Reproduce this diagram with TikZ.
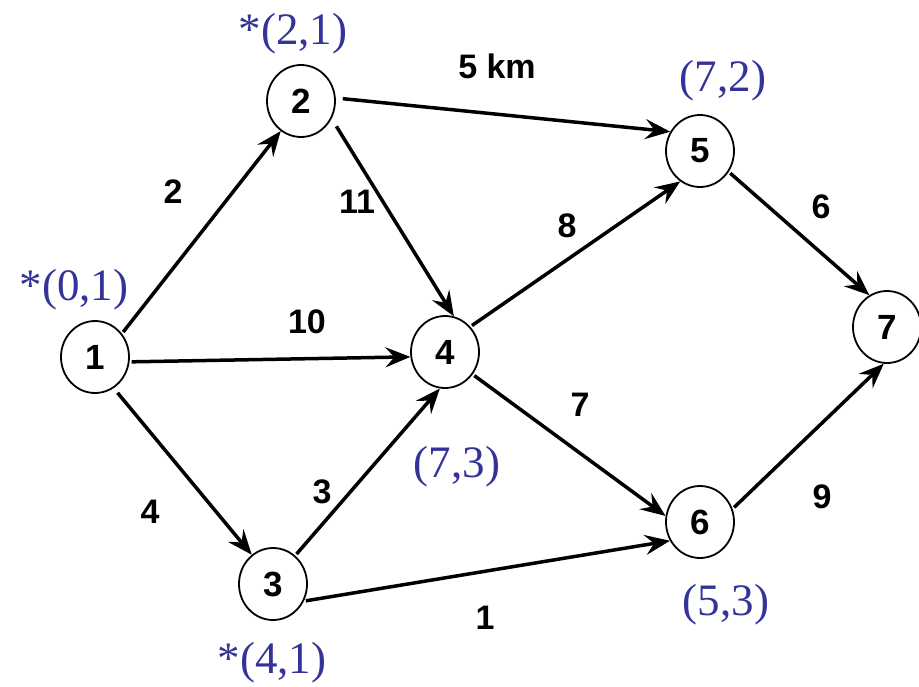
\documentclass[tikz,border=0pt]{standalone}
\usepackage{fontspec}
\setmainfont{Liberation Serif}
\newfontfamily\labfont{Liberation Sans}
\usetikzlibrary{arrows.meta,shapes.geometric}
\definecolor{lblue}{RGB}{51,51,153}
\begin{document}
\begin{tikzpicture}[x=1pt,y=-1pt,
  vtx/.style={ellipse, draw, line width=1.8pt, minimum width=68pt, minimum height=72pt, inner sep=0pt,
    font=\labfont\bfseries\fontsize{35}{35}\selectfont},
  wt/.style={font=\labfont\bfseries\fontsize{34}{34}\selectfont, inner sep=0pt},
  lbl/.style={text=lblue, font=\fontsize{45}{45}\selectfont, inner sep=0pt},
  edge/.style={line width=3.5pt, -{Stealth[length=25pt,width=20pt,inset=9pt]}, shorten <=2pt}]
\useasboundingbox (0,0) rectangle (919,686);
\node[vtx] (n1) at (95,357) {1};
\node[vtx] (n2) at (301,101) {2};
\node[vtx] (n3) at (273,584) {3};
\node[vtx] (n4) at (445,352) {4};
\node[vtx] (n5) at (700,151) {5};
\node[vtx] (n6) at (700,522) {6};
\node[vtx] (n7) at (887,327) {7};

\draw[edge] (n1.41) -- (n2.236);
\draw[edge] (n1.-8) -- (n4.188);
\draw[edge, shorten <=6pt] (n1.-59) -- (n3.126);
\draw[edge, shorten <=7pt] (n2.5) -- (n5.147);
\draw[edge, shorten <=9pt] (n2.-30) -- (n4.76);
\draw[edge] (n3.52) -- (n4.262);
\draw[edge] (n3.-29) -- (n6.212);
\draw[edge] (n4.45) -- (n5.237);
\draw[edge] (n4.-39) -- (n6.170);
\draw[edge] (n5.-36) -- (n7.119);
\draw[edge] (n6.22) -- (n7.265);

\node[wt] (w25) at (497,66) {5 km};
\node[wt] (w24) at (357,202) {11};
\node[wt] (w14) at (307,322) {10};
\node[wt] (w45) at (567,226) {8};
\node[wt] (w57) at (821,207) {6};
\node[wt] (w12) at (173,192) {2};
\node[wt] (w34) at (322,492) {3};
\node[wt] (w36) at (485,618) {1};
\node[wt] (w13) at (150,512) {4};
\node[wt] (w46) at (580,405) {7};
\node[wt] (w67) at (822,497) {9};

\node[lbl] (l1) at (74,290) {*(0,1)};
\node[lbl] (l2) at (293,34) {*(2,1)};
\node[lbl] (l4) at (457,467) {(7,3)};
\node[lbl] (l5) at (723,81) {(7,2)};
\node[lbl] (l6) at (726,605) {(5,3)};
\node[lbl] (l3) at (272,663) {*(4,1)};
\end{tikzpicture}
\end{document}
